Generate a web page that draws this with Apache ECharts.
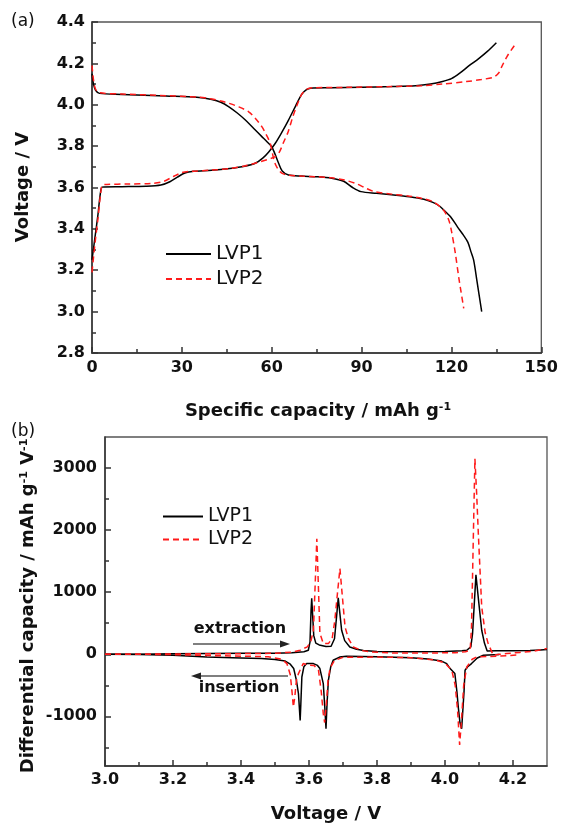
<!DOCTYPE html>
<html>
<head>
<meta charset="utf-8">
<script src="https://cdn.jsdelivr.net/npm/echarts@6/dist/echarts.min.js"></script>
<style>
  html, body { margin: 0; padding: 0; background: #fff; }
  #chart { width: 561px; height: 827px; }
</style>
</head>
<body>
<div id="chart"></div>
<script>
// ---- (a) charge/discharge profiles: [specific capacity (mAh/g), voltage (V)] ----
const lvp1Charge = [
  [0, 3.25], [1, 3.36], [2, 3.47], [2.6, 3.55], [3.2, 3.6], [4, 3.603], [10, 3.604], [18, 3.606],
  [23, 3.612], [26, 3.628], [28.5, 3.65], [31, 3.67], [34, 3.678], [40, 3.683], [46, 3.692],
  [51, 3.703], [54.5, 3.717], [57, 3.742], [59, 3.772], [61.2, 3.814], [63.5, 3.87], [65.6, 3.926],
  [68, 3.995], [70, 4.05], [71.5, 4.072], [73, 4.08], [80, 4.082], [90, 4.085], [100, 4.088],
  [108, 4.092], [113, 4.1], [117, 4.112], [120, 4.126], [123, 4.155], [126, 4.19], [129, 4.222],
  [132, 4.258], [135, 4.3]
];
const lvp1Discharge = [
  [0, 4.15], [0.5, 4.1], [1.2, 4.07], [2.5, 4.055], [10, 4.05], [24.7, 4.042], [35, 4.036],
  [40, 4.025], [43, 4.012], [45.7, 3.99], [48.5, 3.96], [51.2, 3.926], [54, 3.885], [56.7, 3.846],
  [58.5, 3.82], [60, 3.797], [61, 3.765], [62.3, 3.717], [63.5, 3.68], [65.6, 3.66], [70, 3.655],
  [75, 3.652], [80, 3.645], [84, 3.63], [87, 3.6], [89.8, 3.58], [95, 3.572], [100, 3.565],
  [106, 3.555], [110.8, 3.543], [114, 3.527], [116.3, 3.507], [118.2, 3.48], [119.7, 3.459],
  [122, 3.41], [124, 3.37], [125.5, 3.335], [126.5, 3.29], [127.4, 3.25], [128.5, 3.15], [130.1, 3.0]
];
const lvp2Charge = [
  [0, 3.19], [1, 3.33], [2, 3.45], [2.8, 3.56], [3.5, 3.612], [5, 3.615], [12, 3.617], [20, 3.62],
  [24, 3.63], [27, 3.652], [30, 3.672], [33, 3.678], [40, 3.684], [46, 3.692], [51, 3.704],
  [55, 3.72], [58.5, 3.735], [61, 3.748], [62.5, 3.77], [64, 3.82], [65.5, 3.87], [67, 3.94],
  [68.5, 4.0], [70, 4.05], [71.5, 4.073], [73.5, 4.082], [85, 4.084], [100, 4.088], [110, 4.092],
  [117, 4.1], [125, 4.112], [130, 4.122], [134, 4.133], [135.7, 4.152], [137, 4.19], [138.5, 4.232],
  [140, 4.265], [141.7, 4.3]
];
const lvp2Discharge = [
  [0, 4.19], [0.5, 4.12], [1.2, 4.075], [2.5, 4.058], [10, 4.052], [24.7, 4.044], [35, 4.037],
  [40, 4.028], [43, 4.018], [45.7, 4.007], [49, 3.99], [52.3, 3.966], [54.5, 3.935], [56.7, 3.894],
  [58, 3.86], [59.5, 3.814], [60.6, 3.741], [61.3, 3.71], [62.3, 3.685], [63.5, 3.668], [65.6, 3.66],
  [70, 3.655], [75, 3.652], [80, 3.647], [84.3, 3.636], [88, 3.62], [91, 3.6], [94.3, 3.58],
  [100, 3.568], [106, 3.558], [110.8, 3.545], [114, 3.53], [117.4, 3.49], [119.1, 3.443],
  [120, 3.39], [121.3, 3.282], [122.5, 3.16], [124.1, 3.016]
];

// ---- (b) differential capacity: [voltage (V), dQ/dV (mAh g-1 V-1)] ----
const lvp1DqdvCharge = [
  [3.0, 0], [3.1, 2], [3.2, 8], [3.3, 12], [3.4, 15], [3.5, 18], [3.55, 25], [3.585, 40],
  [3.598, 65], [3.603, 200], [3.606, 700], [3.608, 900], [3.611, 880], [3.614, 300], [3.62, 180],
  [3.63, 150], [3.65, 125], [3.665, 130], [3.675, 250], [3.681, 600], [3.686, 910], [3.69, 700],
  [3.696, 387], [3.705, 220], [3.72, 118], [3.74, 80], [3.76, 60], [3.8, 45], [3.9, 40],
  [4.0, 45], [4.05, 55], [4.064, 65], [4.076, 118], [4.081, 333], [4.086, 800], [4.091, 1280],
  [4.1, 800], [4.108, 387], [4.116, 180], [4.124, 53], [4.15, 55], [4.2, 55], [4.25, 60],
  [4.28, 70], [4.3, 76]
];
const lvp1DqdvDischarge = [
  [3.0, 0], [3.1, -5], [3.2, -15], [3.3, -45], [3.4, -60], [3.46, -70], [3.5, -85], [3.53, -110],
  [3.545, -160], [3.555, -230], [3.563, -420], [3.569, -634], [3.574, -1065], [3.576, -800],
  [3.579, -366], [3.585, -200], [3.593, -150], [3.613, -150], [3.625, -180], [3.632, -230],
  [3.642, -473], [3.647, -900], [3.65, -1200], [3.653, -800], [3.657, -419], [3.664, -200],
  [3.671, -97], [3.69, -45], [3.71, -32], [3.8, -40], [3.9, -55], [3.95, -75], [3.99, -110],
  [4.005, -150], [4.015, -231], [4.029, -311], [4.035, -600], [4.039, -850], [4.044, -1100],
  [4.049, -1200], [4.052, -1172], [4.056, -600], [4.059, -258], [4.066, -205], [4.078, -150],
  [4.095, -60], [4.113, -16], [4.16, -5]
];
const lvp2DqdvCharge = [
  [3.0, 0], [3.1, 0], [3.2, 5], [3.3, 8], [3.4, 10], [3.5, 15], [3.55, 35], [3.574, 65],
  [3.595, 120], [3.605, 200], [3.613, 387], [3.618, 1100], [3.623, 1860], [3.627, 1200],
  [3.632, 339], [3.642, 172], [3.657, 172], [3.668, 250], [3.676, 548], [3.684, 1000],
  [3.691, 1380], [3.697, 1000], [3.706, 441], [3.716, 250], [3.73, 118], [3.755, 60],
  [3.78, 37], [3.85, 20], [3.95, 20], [4.03, 25], [4.06, 40], [4.074, 65], [4.078, 441],
  [4.083, 1800], [4.088, 3150], [4.093, 2600], [4.098, 1947], [4.108, 763], [4.118, 350],
  [4.127, 172], [4.142, -16], [4.16, 0], [4.181, 11], [4.22, 30], [4.26, 50], [4.3, 92]
];
const lvp2DqdvDischarge = [
  [3.0, 0], [3.1, 0], [3.2, -5], [3.3, -20], [3.4, -30], [3.48, -40], [3.52, -80], [3.535, -150],
  [3.545, -330], [3.55, -600], [3.554, -850], [3.558, -700], [3.563, -420], [3.569, -311],
  [3.583, -150], [3.598, -177], [3.615, -180], [3.628, -260], [3.636, -600], [3.642, -957],
  [3.646, -1100], [3.651, -800], [3.656, -420], [3.662, -220], [3.675, -100], [3.7, -50],
  [3.8, -45], [3.9, -55], [3.97, -90], [4.0, -140], [4.02, -260], [4.03, -500], [4.037, -900],
  [4.043, -1460], [4.048, -1100], [4.055, -500], [4.064, -205], [4.08, -80], [4.093, -43],
  [4.16, -30], [4.22, -10]
];

// ---- tick positions ----
const dvLabelTicks = [-1000, 0, 1000, 2000, 3000];
const dvMinorTicks = [-1500, -500, 500, 1500, 2500];
const voltLabelTicks = [3.0, 3.2, 3.4, 3.6, 3.8, 4.0, 4.2];
const voltMinorTicks = [3.1, 3.3, 3.5, 3.7, 3.9, 4.1];
const sampleNames = ['LVP1', 'LVP2'];

const FONT = 'DejaVu Sans';
const AXIS_COLOR = '#333';
const axisLineStyle = { color: AXIS_COLOR, width: 1.5 };
const tickLabel = { fontFamily: FONT, fontWeight: 'bold', fontSize: 16, color: '#111' };

function mainAxis(extra) {
  return Object.assign({
    type: 'value',
    axisLine: { show: true, onZero: false, lineStyle: axisLineStyle },
    axisTick: { show: true, inside: true, length: 6, lineStyle: axisLineStyle },
    splitLine: { show: false }
  }, extra);
}
function minorAxis(extra) {
  return Object.assign({
    type: 'value',
    axisLine: { show: false, onZero: false },
    axisLabel: { show: false },
    splitLine: { show: false }
  }, extra);
}

const blackLine = { color: '#000', width: 1.5, type: 'solid' };
const redLine = { color: '#ff1a1a', width: 1.5, type: [6, 4] };

function line(name, data, xi, yi, style, smooth) {
  return {
    name, type: 'line', data, xAxisIndex: xi, yAxisIndex: yi,
    symbol: 'none', smooth: smooth, lineStyle: style, itemStyle: { color: style.color },
    silent: true
  };
}

// legend entries show the line sample only (no marker)
const legendBase = {
  data: sampleNames, orient: 'vertical', selectedMode: false,
  itemHeight: 20, itemStyle: { opacity: 0 },
  textStyle: { fontFamily: FONT, color: '#111' }
};

const chart = echarts.init(document.getElementById('chart'), null, { renderer: 'canvas' });

chart.setOption({
  animation: false,
  backgroundColor: '#fff',
  grid: [
    { left: 92, top: 22, width: 453, height: 331, show: true, borderColor: '#555', borderWidth: 1.3 },
    { left: 105, top: 437, width: 442, height: 329, show: true, borderColor: '#555', borderWidth: 1.3 }
  ],
  xAxis: [
    mainAxis({
      gridIndex: 0, min: 0, max: 150, interval: 30,
      minorTick: { show: true, splitNumber: 2, length: 4, lineStyle: axisLineStyle },
      axisLabel: Object.assign({ margin: 7 }, tickLabel)
    }),
    mainAxis({
      gridIndex: 1, min: 3.0, max: 4.3, position: 'bottom',
      axisTick: { show: true, inside: true, length: 6, lineStyle: axisLineStyle, customValues: voltLabelTicks },
      axisLabel: Object.assign({ margin: 6, customValues: voltLabelTicks, formatter: v => v.toFixed(1) }, tickLabel)
    }),
    minorAxis({
      gridIndex: 1, min: 3.0, max: 4.3, position: 'bottom', offset: 0,
      axisTick: { show: true, inside: true, length: 4, lineStyle: axisLineStyle, customValues: voltMinorTicks }
    })
  ],
  yAxis: [
    mainAxis({
      gridIndex: 0, min: 2.8, max: 4.4, interval: 0.2,
      minorTick: { show: true, splitNumber: 2, length: 4, lineStyle: axisLineStyle },
      axisLabel: Object.assign({ margin: 7, formatter: v => v.toFixed(1) }, tickLabel)
    }),
    mainAxis({
      gridIndex: 1, min: -1800, max: 3500, position: 'left',
      axisTick: { show: true, inside: true, length: 6, lineStyle: axisLineStyle, customValues: dvLabelTicks },
      axisLabel: Object.assign({ margin: 8, customValues: dvLabelTicks, formatter: v => String(Math.round(v)) }, tickLabel)
    }),
    minorAxis({
      gridIndex: 1, min: -1800, max: 3500, position: 'left', offset: 0,
      axisTick: { show: true, inside: true, length: 4, lineStyle: axisLineStyle, customValues: dvMinorTicks }
    })
  ],
  legend: [
    Object.assign({}, legendBase, {
      left: 160, top: 239, itemWidth: 45, itemGap: 5,
      textStyle: { fontFamily: FONT, fontSize: 20, color: '#111' }
    }),
    Object.assign({}, legendBase, {
      left: 157, top: 502, itemWidth: 40, itemGap: 4,
      textStyle: { fontFamily: FONT, fontSize: 19, color: '#111' }
    })
  ],
  series: [
    line('LVP1', lvp1Charge, 0, 0, blackLine, 0.3),
    line('LVP1', lvp1Discharge, 0, 0, blackLine, 0.3),
    line('LVP2', lvp2Charge, 0, 0, redLine, 0.3),
    line('LVP2', lvp2Discharge, 0, 0, redLine, 0.3),
    line('LVP1', lvp1DqdvCharge, 1, 1, blackLine, false),
    line('LVP1', lvp1DqdvDischarge, 1, 1, blackLine, false),
    line('LVP2', lvp2DqdvCharge, 1, 1, redLine, false),
    line('LVP2', lvp2DqdvDischarge, 1, 1, redLine, false)
  ],
  graphic: [
    // panel tags
    { type: 'text', left: 11, top: 13, style: { text: '(a)', font: '17px "DejaVu Sans"', fill: '#111' } },
    { type: 'text', left: 11, top: 423, style: { text: '(b)', font: '17px "DejaVu Sans"', fill: '#111' } },
    // axis titles, panel (a)
    {
      type: 'text', x: 318, y: 411,
      style: {
        text: '{t|Specific capacity / mAh g}{s|-1}', align: 'center', verticalAlign: 'middle',
        rich: {
          t: { fontFamily: FONT, fontWeight: 'bold', fontSize: 18, fill: '#111' },
          s: { fontFamily: FONT, fontWeight: 'bold', fontSize: 11, fill: '#111', verticalAlign: 'top', padding: [0, 0, 8, 0] }
        }
      }
    },
    {
      type: 'text', x: 23, y: 187, rotation: Math.PI / 2,
      style: {
        text: 'Voltage / V', align: 'center', verticalAlign: 'middle',
        fontFamily: FONT, fontWeight: 'bold', fontSize: 18, fill: '#111'
      }
    },
    // axis titles, panel (b)
    {
      type: 'text', x: 326, y: 814,
      style: {
        text: 'Voltage / V', align: 'center', verticalAlign: 'middle',
        fontFamily: FONT, fontWeight: 'bold', fontSize: 18, fill: '#111'
      }
    },
    {
      type: 'text', x: 28, y: 606, rotation: Math.PI / 2,
      style: {
        text: '{t|Differential capacity / mAh g}{s|-1}{t| V}{s|-1}', align: 'center', verticalAlign: 'middle',
        rich: {
          t: { fontFamily: FONT, fontWeight: 'bold', fontSize: 18, fill: '#111' },
          s: { fontFamily: FONT, fontWeight: 'bold', fontSize: 11, fill: '#111', verticalAlign: 'top', padding: [0, 0, 8, 0] }
        }
      }
    },
    // process annotations with arrows
    {
      type: 'text', x: 240, y: 629,
      style: { text: 'extraction', align: 'center', verticalAlign: 'middle', fontFamily: FONT, fontWeight: 'bold', fontSize: 16, fill: '#111' }
    },
    { type: 'line', shape: { x1: 193, y1: 644, x2: 282, y2: 644 }, style: { stroke: '#555', lineWidth: 1.5 } },
    { type: 'polygon', shape: { points: [[290, 644], [280, 640.5], [280, 647.5]] }, style: { fill: '#222' } },
    {
      type: 'text', x: 239, y: 688,
      style: { text: 'insertion', align: 'center', verticalAlign: 'middle', fontFamily: FONT, fontWeight: 'bold', fontSize: 16, fill: '#111' }
    },
    { type: 'line', shape: { x1: 199, y1: 676, x2: 288, y2: 676 }, style: { stroke: '#555', lineWidth: 1.5 } },
    { type: 'polygon', shape: { points: [[191, 676], [201, 672.5], [201, 679.5]] }, style: { fill: '#222' } }
  ]
});
</script>
</body>
</html>
